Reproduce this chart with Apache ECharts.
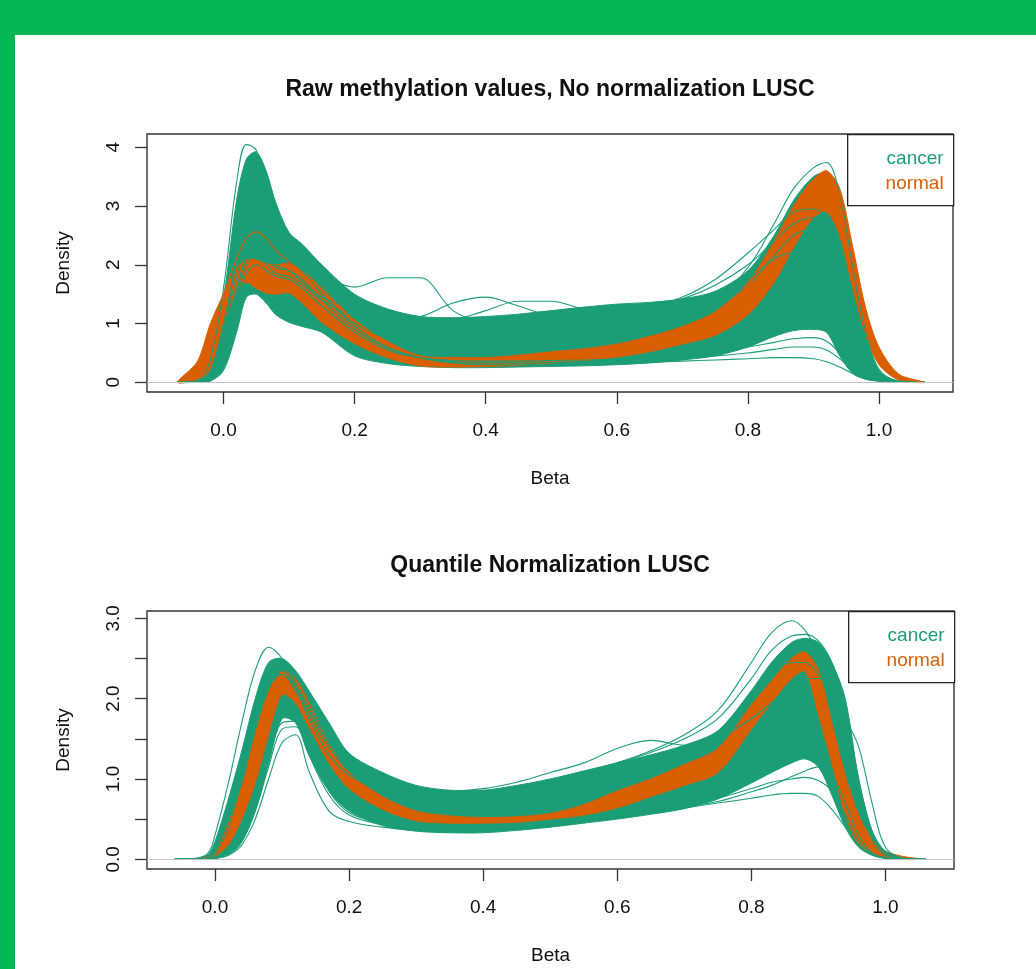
<!DOCTYPE html>
<html>
<head>
<meta charset="utf-8">
<title>LUSC methylation density</title>
<script src="https://cdn.jsdelivr.net/npm/echarts@6/dist/echarts.min.js"></script>
<style>
  html, body { margin: 0; padding: 0; background: #fff; }
  #main { width: 1036px; height: 969px; }
</style>
</head>
<body>
<div id="main"></div>
<script>
// ---- top plot: raw beta values ----
const betaTop = [-0.07, -0.04, -0.02, 0, 0.02, 0.035, 0.05, 0.065, 0.08, 0.1, 0.12, 0.15, 0.2, 0.25, 0.3, 0.35, 0.4, 0.45, 0.5, 0.55, 0.6, 0.65, 0.7, 0.75, 0.8, 0.84, 0.87, 0.9, 0.92, 0.94, 0.96, 0.98, 1.0, 1.03, 1.07];
// dense part of the cancer curves (lower / upper edge)
const cancerLowTop  = [0, 0, 0.02, 0.2, 0.85, 1.45, 1.5, 1.35, 1.15, 1.02, 0.95, 0.85, 0.45, 0.32, 0.27, 0.25, 0.25, 0.26, 0.27, 0.28, 0.3, 0.33, 0.38, 0.45, 0.6, 0.78, 0.88, 0.9, 0.85, 0.45, 0.15, 0.05, 0.02, 0, 0];
const cancerHighTop = [0, 0.1, 0.6, 1.45, 3.1, 3.8, 3.92, 3.6, 3.05, 2.55, 2.35, 2.0, 1.5, 1.25, 1.12, 1.1, 1.12, 1.16, 1.22, 1.28, 1.33, 1.36, 1.42, 1.55, 1.9, 2.5, 3.1, 3.5, 3.55, 3.0, 1.8, 0.85, 0.2, 0.02, 0];
// single cancer curves outside the dense part
const cancerSpikeTop = [0, 0.02, 0.4, 1.6, 3.4, 4.05, 3.95, 3.3, 2.6, 2.2, 2.0, 1.6, 1.15, 0.95, 0.85, 0.8, 0.78, 0.78, 0.8, 0.84, 0.9, 0.98, 1.1, 1.3, 1.65, 2.15, 2.5, 2.6, 2.5, 1.9, 1.0, 0.4, 0.1, 0.01, 0];
const cancerHumpATop = [0, 0, 0.2, 1.0, 2.0, 2.35, 2.4, 2.3, 2.3, 2.4, 2.25, 1.88, 1.62, 1.78, 1.78, 1.22, 1.0, 0.95, 0.98, 1.02, 1.08, 1.15, 1.25, 1.45, 1.75, 2.1, 2.2, 2.1, 1.8, 1.2, 0.6, 0.25, 0.08, 0.01, 0];
const cancerHumpBTop = [0, 0, 0.15, 0.9, 1.8, 2.3, 2.4, 2.2, 2.0, 1.9, 1.7, 1.45, 1.25, 1.08, 1.12, 1.35, 1.45, 1.3, 1.15, 1.15, 1.2, 1.28, 1.45, 1.75, 2.2, 2.6, 2.9, 2.95, 2.8, 2.2, 1.3, 0.5, 0.12, 0.01, 0];
const cancerHumpCTop = [0, 0, 0.1, 0.7, 1.6, 2.1, 2.2, 2.0, 1.85, 1.8, 1.65, 1.4, 1.1, 0.95, 0.95, 1.05, 1.22, 1.38, 1.38, 1.25, 1.22, 1.3, 1.42, 1.65, 2.0, 2.4, 2.7, 2.8, 2.6, 2.0, 1.1, 0.45, 0.1, 0.01, 0];
const cancerPeakTop  = [0, 0, 0.1, 0.8, 2.2, 2.9, 3.0, 2.7, 2.3, 2.1, 1.9, 1.5, 1.0, 0.75, 0.65, 0.6, 0.6, 0.62, 0.66, 0.72, 0.8, 0.92, 1.1, 1.4, 1.95, 2.7, 3.3, 3.65, 3.74, 3.2, 1.95, 0.85, 0.22, 0.02, 0];
const cancerLowATop  = [0, 0, 0.05, 0.5, 1.5, 2.2, 2.5, 2.4, 2.2, 2.1, 1.9, 1.5, 0.95, 0.6, 0.42, 0.33, 0.3, 0.3, 0.3, 0.31, 0.32, 0.34, 0.36, 0.38, 0.4, 0.42, 0.42, 0.4, 0.35, 0.26, 0.15, 0.06, 0.02, 0, 0];
const cancerLowBTop  = [0, 0, 0.04, 0.45, 1.4, 2.0, 2.2, 2.1, 1.95, 1.9, 1.75, 1.4, 0.9, 0.58, 0.42, 0.35, 0.33, 0.33, 0.34, 0.35, 0.36, 0.38, 0.41, 0.45, 0.5, 0.56, 0.6, 0.6, 0.55, 0.4, 0.22, 0.08, 0.03, 0, 0];
const cancerLowCTop  = [0, 0, 0.03, 0.4, 1.3, 1.85, 2.0, 1.9, 1.8, 1.75, 1.6, 1.3, 0.85, 0.55, 0.42, 0.37, 0.36, 0.36, 0.37, 0.38, 0.4, 0.42, 0.46, 0.52, 0.6, 0.68, 0.74, 0.76, 0.7, 0.5, 0.26, 0.1, 0.03, 0, 0];
// dense part of the normal curves
const normalLowTop  = [0, 0.05, 0.2, 0.95, 1.55, 1.7, 1.6, 1.52, 1.5, 1.52, 1.35, 1.02, 0.66, 0.42, 0.28, 0.26, 0.27, 0.29, 0.33, 0.37, 0.43, 0.52, 0.65, 0.8, 1.15, 1.7, 2.3, 2.8, 2.9, 2.5, 1.6, 0.8, 0.3, 0.04, 0];
const normalHighTop = [0, 0.35, 1.0, 1.5, 1.95, 2.1, 2.08, 2.02, 2.0, 2.02, 1.9, 1.62, 1.06, 0.7, 0.45, 0.42, 0.42, 0.46, 0.52, 0.57, 0.65, 0.78, 0.95, 1.2, 1.7, 2.4, 3.0, 3.45, 3.6, 3.3, 2.3, 1.25, 0.6, 0.14, 0];
const normalPeakTop = [0, 0.25, 0.85, 1.5, 2.1, 2.45, 2.56, 2.45, 2.25, 2.05, 1.85, 1.55, 1.05, 0.66, 0.44, 0.41, 0.41, 0.45, 0.5, 0.55, 0.63, 0.75, 0.92, 1.18, 1.65, 2.35, 3.0, 3.45, 3.55, 3.2, 2.2, 1.2, 0.55, 0.12, 0];

// ---- bottom plot: quantile normalized ----
const betaBot = [-0.06, -0.03, -0.01, 0, 0.02, 0.04, 0.06, 0.08, 0.1, 0.12, 0.14, 0.17, 0.2, 0.25, 0.3, 0.35, 0.4, 0.45, 0.5, 0.55, 0.6, 0.65, 0.7, 0.75, 0.8, 0.83, 0.86, 0.88, 0.9, 0.92, 0.94, 0.96, 0.98, 1.0, 1.03, 1.06];
const cancerLowBot  = [0, 0, 0, 0.01, 0.06, 0.22, 0.6, 1.2, 1.75, 1.7, 1.3, 0.85, 0.6, 0.42, 0.35, 0.33, 0.33, 0.36, 0.4, 0.45, 0.5, 0.56, 0.63, 0.75, 0.95, 1.08, 1.2, 1.25, 1.15, 0.8, 0.4, 0.15, 0.05, 0.01, 0, 0];
const cancerHighBot = [0, 0.01, 0.06, 0.22, 0.75, 1.35, 2.0, 2.45, 2.5, 2.35, 2.1, 1.7, 1.32, 1.08, 0.92, 0.86, 0.86, 0.92, 1.0, 1.1, 1.2, 1.3, 1.42, 1.6, 2.1, 2.45, 2.7, 2.75, 2.7, 2.45, 2.0, 1.0, 0.35, 0.08, 0.01, 0];
const cancerSpikeBot = [0, 0.01, 0.08, 0.3, 0.95, 1.7, 2.35, 2.64, 2.5, 2.15, 1.75, 1.3, 1.05, 0.85, 0.75, 0.72, 0.72, 0.75, 0.8, 0.88, 0.98, 1.1, 1.28, 1.55, 2.0, 2.3, 2.45, 2.45, 2.3, 2.0, 1.5, 0.85, 0.35, 0.1, 0.01, 0];
const cancerHumpBot  = [0, 0, 0.02, 0.1, 0.5, 1.1, 1.75, 2.2, 2.3, 2.1, 1.8, 1.4, 1.1, 0.9, 0.85, 0.85, 0.88, 0.96, 1.08, 1.2, 1.38, 1.48, 1.42, 1.5, 1.95, 2.3, 2.55, 2.6, 2.45, 2.1, 1.55, 0.8, 0.3, 0.07, 0.01, 0];
const cancerPeakBot  = [0, 0, 0.02, 0.1, 0.5, 1.1, 1.8, 2.25, 2.35, 2.15, 1.85, 1.45, 1.15, 0.95, 0.85, 0.82, 0.84, 0.9, 0.98, 1.08, 1.2, 1.35, 1.55, 1.85, 2.45, 2.82, 2.97, 2.85, 2.55, 2.1, 1.5, 0.75, 0.25, 0.05, 0.01, 0];
const cancerFringeBot = [0, 0, 0.02, 0.1, 0.55, 1.2, 1.9, 2.3, 2.4, 2.2, 1.9, 1.5, 1.2, 0.98, 0.88, 0.84, 0.85, 0.9, 0.98, 1.08, 1.2, 1.33, 1.5, 1.75, 2.25, 2.6, 2.78, 2.8, 2.72, 2.45, 1.9, 1.0, 0.35, 0.08, 0.01, 0];
const cancerLateBot  = [0, 0, 0.01, 0.06, 0.4, 1.0, 1.7, 2.15, 2.3, 2.15, 1.85, 1.45, 1.15, 0.95, 0.85, 0.82, 0.83, 0.88, 0.95, 1.03, 1.12, 1.22, 1.35, 1.5, 1.75, 1.95, 2.15, 2.25, 2.25, 2.05, 1.75, 1.4, 0.7, 0.15, 0.01, 0];
const cancerLowABot  = [0, 0, 0, 0.01, 0.05, 0.18, 0.5, 1.0, 1.45, 1.55, 1.1, 0.6, 0.47, 0.4, 0.36, 0.34, 0.35, 0.38, 0.42, 0.47, 0.52, 0.58, 0.64, 0.7, 0.76, 0.8, 0.82, 0.82, 0.78, 0.62, 0.4, 0.18, 0.06, 0.015, 0, 0];
const cancerLowBBot  = [0, 0, 0, 0.01, 0.06, 0.22, 0.6, 1.15, 1.62, 1.65, 1.3, 0.8, 0.55, 0.43, 0.37, 0.35, 0.36, 0.39, 0.43, 0.48, 0.54, 0.6, 0.66, 0.72, 0.84, 0.92, 1.03, 1.1, 1.15, 1.05, 0.7, 0.3, 0.08, 0.02, 0, 0];
const cancerLowCBot  = [0, 0, 0, 0.01, 0.07, 0.25, 0.65, 1.2, 1.7, 1.72, 1.35, 0.85, 0.58, 0.45, 0.38, 0.36, 0.37, 0.4, 0.44, 0.5, 0.56, 0.62, 0.68, 0.76, 0.88, 0.96, 1.0, 1.02, 0.98, 0.85, 0.55, 0.22, 0.07, 0.02, 0, 0];
const normalLowBot  = [0, 0, 0.01, 0.04, 0.18, 0.5, 0.95, 1.55, 2.05, 1.95, 1.65, 1.2, 0.88, 0.62, 0.48, 0.45, 0.45, 0.46, 0.5, 0.55, 0.64, 0.78, 0.92, 1.08, 1.62, 1.95, 2.25, 2.34, 1.8, 1.2, 0.55, 0.18, 0.06, 0.02, 0.005, 0];
const normalHighBot = [0, 0.005, 0.03, 0.1, 0.45, 0.9, 1.55, 2.08, 2.34, 2.25, 1.95, 1.45, 1.08, 0.78, 0.6, 0.54, 0.52, 0.53, 0.57, 0.68, 0.85, 1.0, 1.18, 1.38, 1.92, 2.22, 2.5, 2.58, 2.35, 1.7, 1.05, 0.55, 0.25, 0.1, 0.03, 0];

// tick labels
const betaTicks = [0, 0.2, 0.4, 0.6, 0.8, 1.0];
const densTicksTop = [0, 1, 2, 3, 4];
const densTicksBot = [0, 0.5, 1, 1.5, 2, 2.5, 3];
const densLabelsBot = [0, 1, 2, 3];

const GREEN = '#1b9e77';
const ORANGE = '#d95f02';
const FONT = 'Liberation Sans, Arial, Helvetica, sans-serif';

function pairs(xs, ys) {
  return xs.map((x, i) => [x, ys[i]]);
}

// filled bundle between a lower and an upper edge, drawn once as a polygon
function bundle(name, color, xs, lo, hi, g) {
  return {
    name: name, type: 'custom', xAxisIndex: g, yAxisIndex: g, silent: true,
    data: xs.map((x, i) => [x, lo[i], hi[i]]),
    encode: { x: 0, y: [1, 2] },
    renderItem: function (params, api) {
      if (params.dataIndex !== 0) return null;
      let pts = [];
      for (let i = 0; i < xs.length; i++) pts.push(api.coord([xs[i], hi[i]]));
      // both ends are 0, skip them on the way back
      for (let i = xs.length - 2; i >= 1; i--) pts.push(api.coord([xs[i], lo[i]]));
      return {
        type: 'polygon',
        shape: { points: pts, smooth: 0.3 },
        style: { fill: color, stroke: color, lineWidth: 1 }
      };
    }
  };
}

function curve(name, color, xs, ys, g) {
  return { name: name, type: 'line', xAxisIndex: g, yAxisIndex: g,
    data: pairs(xs, ys), smooth: 0.35, symbol: 'none',
    lineStyle: { color: color, width: 1.1 } };
}

function zeroLine(g) {
  return { type: 'line', xAxisIndex: g, yAxisIndex: g, data: [], silent: true,
    markLine: { silent: true, symbol: 'none', label: { show: false },
      lineStyle: { color: '#c4c4c4', width: 1, type: 'solid' },
      data: [{ yAxis: 0 }] } };
}

function xAxisFor(g, min, max) {
  return {
    gridIndex: g, type: 'value', min: min, max: max,
    name: 'Beta', nameLocation: 'middle', nameGap: 77,
    nameTextStyle: { fontFamily: FONT, fontSize: 19, color: '#111' },
    axisLine: { show: false, onZero: false }, splitLine: { show: false },
    axisTick: { customValues: betaTicks, length: 12, lineStyle: { color: '#333', width: 1.3 } },
    axisLabel: { customValues: betaTicks, margin: 29, fontFamily: FONT, fontSize: 19, color: '#111',
      formatter: v => v.toFixed(1) }
  };
}

function yAxisFor(g, min, max, ticks, labels, digits) {
  return {
    gridIndex: g, type: 'value', min: min, max: max,
    name: 'Density', nameLocation: 'middle', nameGap: 74,
    nameTextStyle: { fontFamily: FONT, fontSize: 19, color: '#111' },
    axisLine: { show: false, onZero: false }, splitLine: { show: false },
    axisTick: { customValues: ticks, length: 12, lineStyle: { color: '#333', width: 1.3 } },
    axisLabel: { customValues: labels, rotate: 90, margin: 24, fontFamily: FONT, fontSize: 19, color: '#111',
      formatter: v => v.toFixed(digits) }
  };
}

function legendBox(x, y) {
  return {
    type: 'group', left: x, top: y,
    children: [
      { type: 'rect', shape: { x: 0, y: 0, width: 106, height: 71 },
        style: { fill: '#fff', stroke: '#222', lineWidth: 1.3 } },
      { type: 'text', x: 96, y: 24, style: { text: 'cancer', fill: GREEN, font: '19px ' + FONT,
        textAlign: 'right', textVerticalAlign: 'middle' } },
      { type: 'text', x: 96, y: 49, style: { text: 'normal', fill: ORANGE, font: '19px ' + FONT,
        textAlign: 'right', textVerticalAlign: 'middle' } }
    ]
  };
}

let series = [
  zeroLine(0),
  bundle('cancer', GREEN, betaTop, cancerLowTop, cancerHighTop, 0),
  curve('cancer', GREEN, betaTop, cancerSpikeTop, 0),
  curve('cancer', GREEN, betaTop, cancerHumpATop, 0),
  curve('cancer', GREEN, betaTop, cancerHumpBTop, 0),
  curve('cancer', GREEN, betaTop, cancerHumpCTop, 0),
  curve('cancer', GREEN, betaTop, cancerPeakTop, 0),
  curve('cancer', GREEN, betaTop, cancerLowATop, 0),
  curve('cancer', GREEN, betaTop, cancerLowBTop, 0),
  curve('cancer', GREEN, betaTop, cancerLowCTop, 0),
  bundle('normal', ORANGE, betaTop, normalLowTop, normalHighTop, 0),
  curve('normal', ORANGE, betaTop, normalPeakTop, 0),

  zeroLine(1),
  bundle('cancer', GREEN, betaBot, cancerLowBot, cancerHighBot, 1),
  curve('cancer', GREEN, betaBot, cancerSpikeBot, 1),
  curve('cancer', GREEN, betaBot, cancerHumpBot, 1),
  curve('cancer', GREEN, betaBot, cancerPeakBot, 1),
  curve('cancer', GREEN, betaBot, cancerFringeBot, 1),
  curve('cancer', GREEN, betaBot, cancerLateBot, 1),
  curve('cancer', GREEN, betaBot, cancerLowABot, 1),
  curve('cancer', GREEN, betaBot, cancerLowBBot, 1),
  curve('cancer', GREEN, betaBot, cancerLowCBot, 1),
  bundle('normal', ORANGE, betaBot, normalLowBot, normalHighBot, 1)
];

let chart = echarts.init(document.getElementById('main'), null, { renderer: 'canvas' });
chart.setOption({
  animation: false,
  backgroundColor: '#fff',
  title: [
    { text: 'Raw methylation values, No normalization LUSC', left: 550, top: 78, textAlign: 'center', padding: 0,
      textStyle: { fontFamily: FONT, fontSize: 23, fontWeight: 'bold', color: '#111' } },
    { text: 'Quantile Normalization LUSC', left: 550, top: 554, textAlign: 'center', padding: 0,
      textStyle: { fontFamily: FONT, fontSize: 23, fontWeight: 'bold', color: '#111' } }
  ],
  grid: [
    { left: 147, top: 134, width: 806, height: 258, show: true, borderColor: '#333', borderWidth: 1.4 },
    { left: 147, top: 611, width: 807, height: 258, show: true, borderColor: '#333', borderWidth: 1.4 }
  ],
  xAxis: [
    xAxisFor(0, -0.1167, 1.1129),
    xAxisFor(1, -0.1014, 1.1022)
  ],
  yAxis: [
    yAxisFor(0, -0.165, 4.226, densTicksTop, densTicksTop, 0),
    yAxisFor(1, -0.121, 3.091, densTicksBot, densLabelsBot, 1)
  ],
  graphic: [
    // green page frame
    { type: 'rect', left: 0, top: 0, shape: { width: 1036, height: 35 }, style: { fill: '#07b755' }, z: -1 },
    { type: 'rect', left: 0, top: 0, shape: { width: 15, height: 969 }, style: { fill: '#07b755' }, z: -1 },
    legendBox(847, 134),
    legendBox(848, 611)
  ],
  series: series
});
</script>
</body>
</html>
